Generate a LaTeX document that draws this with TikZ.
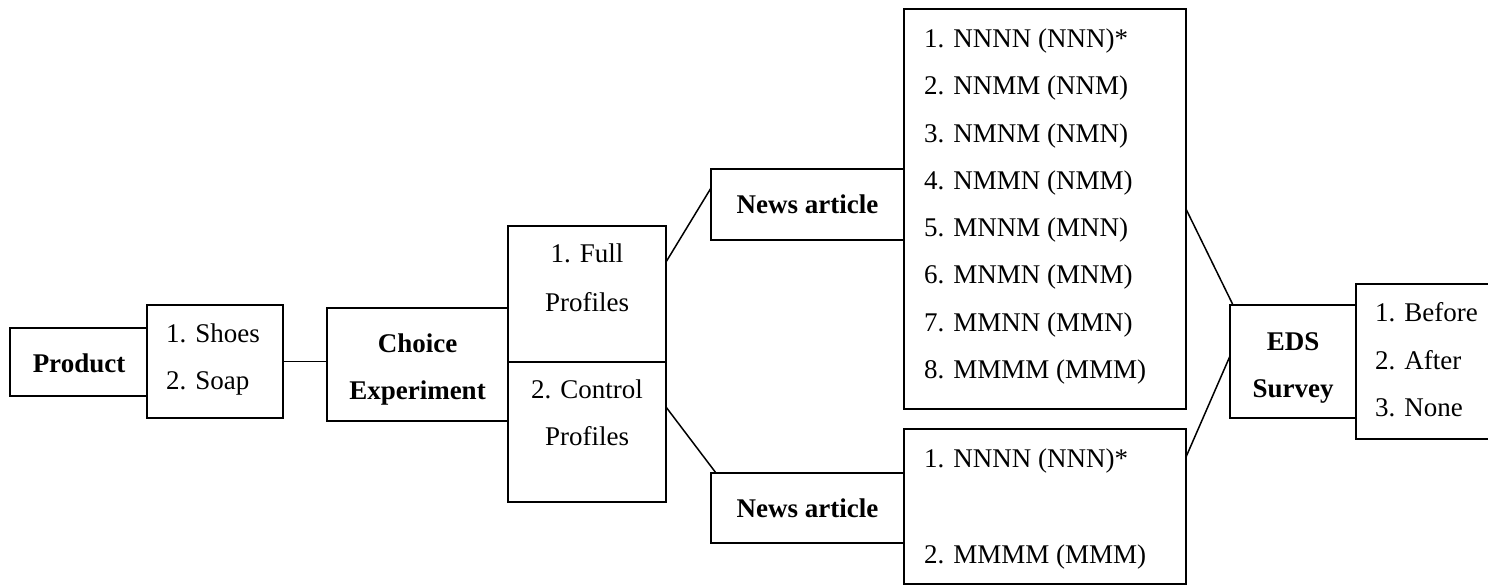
\documentclass[tikz,border=0pt]{standalone}
\usepackage{fontspec}
\setmainfont{Liberation Serif}
\usetikzlibrary{fit}
\begin{document}
\begin{tikzpicture}[x=1pt,y=-1pt,
  box/.style={draw, line width=1.8pt, inner sep=0pt, outer sep=0pt},
  conn/.style={line width=1.5pt},
  txt/.style={inner sep=0pt, anchor=base, font=\fontsize{27}{32}\selectfont},
  btxt/.style={inner sep=0pt, anchor=base, font=\fontsize{27}{32}\selectfont\bfseries},
  ltxt/.style={inner sep=0pt, anchor=base west, font=\fontsize{27}{32}\selectfont}]
\useasboundingbox (0,0) rectangle (1488,587);
\clip (0,0) rectangle (1488,587);
\fill[white] (0,0) rectangle (1488,587);
% boxes
\node[box, fit={(10,328) (147,396)}] (product) {};
\node[box, fit={(147,305) (283,418)}] (shoes) {};
\node[box, fit={(327,308) (508,421)}] (choice) {};
\node[box, fit={(508,226) (666,362)}] (full) {};
\node[box, fit={(508,362) (666,502)}] (control) {};
\node[box, fit={(711,169) (904,240)}] (newsA) {};
\node[box, fit={(711,473) (904,543)}] (newsB) {};
\node[box, fit={(904,9) (1186,409)}] (listA) {};
\node[box, fit={(904,429) (1186,584)}] (listB) {};
\node[box, fit={(1230,305) (1356,418)}] (eds) {};
\node[box, fit={(1356,284) (1495,439)}] (opts) {};
% texts
\node[btxt] (tproduct) at (79,372) {Product};
\node[ltxt] (tshoes1) at (166,342) {1. Shoes};
\node[ltxt] (tshoes2) at (166,389) {2. Soap};
\node[btxt] (tchoice1) at (417.5,352) {Choice};
\node[btxt] (tchoice2) at (417.5,399) {Experiment};
\node[txt] (tfull1) at (587,262) {1. Full};
\node[txt] (tfull2) at (587,311) {Profiles};
\node[txt] (tcontrol1) at (587,398) {2. Control};
\node[txt] (tcontrol2) at (587,445) {Profiles};
\node[btxt] (tnewsA) at (807.5,213) {News article};
\node[btxt] (tnewsB) at (807.5,517) {News article};
\node[ltxt] (la1) at (924,47) {1. NNNN (NNN)*};
\node[ltxt] (la2) at (924,94) {2. NNMM (NNM)};
\node[ltxt] (la3) at (924,142) {3. NMNM (NMN)};
\node[ltxt] (la4) at (924,189) {4. NMMN (NMM)};
\node[ltxt] (la5) at (924,236) {5. MNNM (MNN)};
\node[ltxt] (la6) at (924,283) {6. MNMN (MNM)};
\node[ltxt] (la7) at (924,331) {7. MMNN (MMN)};
\node[ltxt] (la8) at (924,378) {8. MMMM (MMM)};
\node[ltxt] (lb1) at (924,467) {1. NNNN (NNN)*};
\node[ltxt] (lb2) at (924,563) {2. MMMM (MMM)};
\node[btxt] (teds1) at (1293,350) {EDS};
\node[btxt] (teds2) at (1293,397) {Survey};
\node[ltxt] (to1) at (1375,321) {1. Before};
\node[ltxt] (to2) at (1375,369) {2. After};
\node[ltxt] (to3) at (1375,416) {3. None};
% connectors
\draw[conn] (shoes.east) -- (shoes.east -| choice.west);
\draw[conn] ([yshift=-36pt]full.north east) -- ([yshift=-19pt]newsA.north west);
\draw[conn] ([yshift=-45pt]control.north east) -- ([xshift=5pt]newsB.north west);
\draw[conn] (listA.east) -- ([xshift=3pt]eds.north west);
\draw[conn] ([yshift=-28pt]listB.north east) -- ([yshift=-51pt]eds.north west);
\end{tikzpicture}
\end{document}
